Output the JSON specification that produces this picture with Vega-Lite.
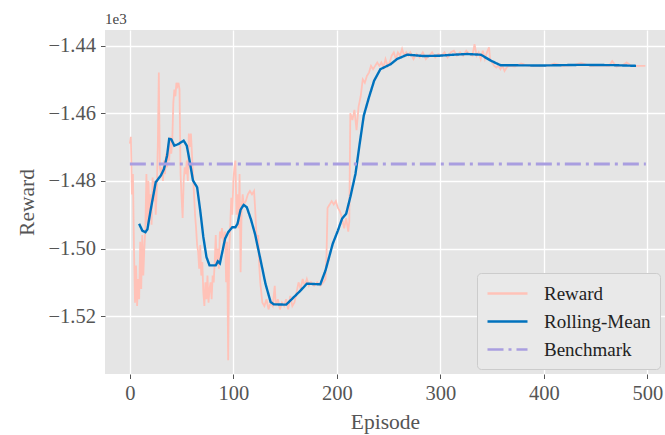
{
  "$schema": "https://vega.github.io/schema/vega-lite/v6.json",
  "width": 560,
  "height": 344,
  "autosize": {"type": "none"},
  "padding": {"left": 105, "top": 30, "right": 0, "bottom": 61},
  "background": "white",
  "title": {"text": "1e3", "anchor": "start", "frame": "group", "font": "Liberation Serif", "fontSize": 15, "fontWeight": "normal", "color": "#444444", "baseline": "bottom", "offset": -12},
  "config": {
    "view": {"fill": "#e5e5e5", "stroke": null},
    "axis": {
      "domain": false,
      "grid": true,
      "gridColor": "#ffffff",
      "gridWidth": 1.3,
      "tickColor": "#555555",
      "tickSize": 4.5,
      "tickWidth": 1,
      "labelColor": "#555555",
      "labelFont": "Liberation Serif",
      "labelFontSize": 20.5,
      "labelPadding": 5,
      "titleColor": "#555555",
      "titleFont": "Liberation Serif",
      "titleFontSize": 21.5,
      "titleFontWeight": "normal"
    },
    "legend": {
      "labelFont": "Liberation Serif",
      "labelFontSize": 19,
      "labelColor": "#222222"
    }
  },
  "data": {
    "values": [
      {"episode": 0, "value": -1469, "series": "Reward"},
      {"episode": 1, "value": -1467, "series": "Reward"},
      {"episode": 2, "value": -1484, "series": "Reward"},
      {"episode": 3, "value": -1478, "series": "Reward"},
      {"episode": 4, "value": -1500, "series": "Reward"},
      {"episode": 5, "value": -1516, "series": "Reward"},
      {"episode": 6, "value": -1505, "series": "Reward"},
      {"episode": 7, "value": -1517, "series": "Reward"},
      {"episode": 8, "value": -1509, "series": "Reward"},
      {"episode": 9, "value": -1515, "series": "Reward"},
      {"episode": 10, "value": -1498, "series": "Reward"},
      {"episode": 11, "value": -1512, "series": "Reward"},
      {"episode": 12, "value": -1496, "series": "Reward"},
      {"episode": 13, "value": -1508, "series": "Reward"},
      {"episode": 14, "value": -1500, "series": "Reward"},
      {"episode": 15, "value": -1494, "series": "Reward"},
      {"episode": 16, "value": -1478, "series": "Reward"},
      {"episode": 17, "value": -1493, "series": "Reward"},
      {"episode": 18, "value": -1480, "series": "Reward"},
      {"episode": 19, "value": -1490, "series": "Reward"},
      {"episode": 20, "value": -1484, "series": "Reward"},
      {"episode": 21, "value": -1493, "series": "Reward"},
      {"episode": 22, "value": -1479, "series": "Reward"},
      {"episode": 23, "value": -1486, "series": "Reward"},
      {"episode": 24, "value": -1480, "series": "Reward"},
      {"episode": 25, "value": -1490, "series": "Reward"},
      {"episode": 26, "value": -1483, "series": "Reward"},
      {"episode": 27, "value": -1470, "series": "Reward"},
      {"episode": 28, "value": -1448, "series": "Reward"},
      {"episode": 29, "value": -1476, "series": "Reward"},
      {"episode": 30, "value": -1478, "series": "Reward"},
      {"episode": 31, "value": -1476, "series": "Reward"},
      {"episode": 32, "value": -1480, "series": "Reward"},
      {"episode": 33, "value": -1474, "series": "Reward"},
      {"episode": 34, "value": -1478, "series": "Reward"},
      {"episode": 35, "value": -1472, "series": "Reward"},
      {"episode": 36, "value": -1476, "series": "Reward"},
      {"episode": 37, "value": -1470, "series": "Reward"},
      {"episode": 38, "value": -1474, "series": "Reward"},
      {"episode": 39, "value": -1467, "series": "Reward"},
      {"episode": 40, "value": -1472, "series": "Reward"},
      {"episode": 41, "value": -1468, "series": "Reward"},
      {"episode": 42, "value": -1457, "series": "Reward"},
      {"episode": 43, "value": -1453, "series": "Reward"},
      {"episode": 44, "value": -1455, "series": "Reward"},
      {"episode": 45, "value": -1451, "series": "Reward"},
      {"episode": 46, "value": -1452, "series": "Reward"},
      {"episode": 47, "value": -1451, "series": "Reward"},
      {"episode": 48, "value": -1453, "series": "Reward"},
      {"episode": 49, "value": -1478, "series": "Reward"},
      {"episode": 50, "value": -1485, "series": "Reward"},
      {"episode": 51, "value": -1491, "series": "Reward"},
      {"episode": 52, "value": -1480, "series": "Reward"},
      {"episode": 53, "value": -1476, "series": "Reward"},
      {"episode": 54, "value": -1478, "series": "Reward"},
      {"episode": 55, "value": -1474, "series": "Reward"},
      {"episode": 56, "value": -1480, "series": "Reward"},
      {"episode": 57, "value": -1466, "series": "Reward"},
      {"episode": 58, "value": -1470, "series": "Reward"},
      {"episode": 59, "value": -1466, "series": "Reward"},
      {"episode": 60, "value": -1472, "series": "Reward"},
      {"episode": 61, "value": -1478, "series": "Reward"},
      {"episode": 62, "value": -1484, "series": "Reward"},
      {"episode": 63, "value": -1490, "series": "Reward"},
      {"episode": 64, "value": -1494, "series": "Reward"},
      {"episode": 65, "value": -1499, "series": "Reward"},
      {"episode": 66, "value": -1501, "series": "Reward"},
      {"episode": 67, "value": -1506, "series": "Reward"},
      {"episode": 68, "value": -1499, "series": "Reward"},
      {"episode": 69, "value": -1508, "series": "Reward"},
      {"episode": 70, "value": -1504, "series": "Reward"},
      {"episode": 71, "value": -1513, "series": "Reward"},
      {"episode": 72, "value": -1517, "series": "Reward"},
      {"episode": 73, "value": -1510, "series": "Reward"},
      {"episode": 74, "value": -1515, "series": "Reward"},
      {"episode": 75, "value": -1508, "series": "Reward"},
      {"episode": 76, "value": -1516, "series": "Reward"},
      {"episode": 77, "value": -1512, "series": "Reward"},
      {"episode": 78, "value": -1510, "series": "Reward"},
      {"episode": 79, "value": -1515, "series": "Reward"},
      {"episode": 80, "value": -1508, "series": "Reward"},
      {"episode": 81, "value": -1510, "series": "Reward"},
      {"episode": 82, "value": -1504, "series": "Reward"},
      {"episode": 83, "value": -1496, "series": "Reward"},
      {"episode": 84, "value": -1505, "series": "Reward"},
      {"episode": 85, "value": -1500, "series": "Reward"},
      {"episode": 86, "value": -1506, "series": "Reward"},
      {"episode": 87, "value": -1495, "series": "Reward"},
      {"episode": 88, "value": -1497, "series": "Reward"},
      {"episode": 89, "value": -1494, "series": "Reward"},
      {"episode": 90, "value": -1496, "series": "Reward"},
      {"episode": 91, "value": -1500, "series": "Reward"},
      {"episode": 92, "value": -1495, "series": "Reward"},
      {"episode": 93, "value": -1510, "series": "Reward"},
      {"episode": 94, "value": -1498, "series": "Reward"},
      {"episode": 95, "value": -1533, "series": "Reward"},
      {"episode": 96, "value": -1500, "series": "Reward"},
      {"episode": 97, "value": -1493, "series": "Reward"},
      {"episode": 98, "value": -1485, "series": "Reward"},
      {"episode": 99, "value": -1490, "series": "Reward"},
      {"episode": 100, "value": -1480, "series": "Reward"},
      {"episode": 101, "value": -1476, "series": "Reward"},
      {"episode": 102, "value": -1474, "series": "Reward"},
      {"episode": 103, "value": -1490, "series": "Reward"},
      {"episode": 104, "value": -1484, "series": "Reward"},
      {"episode": 105, "value": -1494, "series": "Reward"},
      {"episode": 106, "value": -1478, "series": "Reward"},
      {"episode": 107, "value": -1507, "series": "Reward"},
      {"episode": 108, "value": -1488, "series": "Reward"},
      {"episode": 109, "value": -1484, "series": "Reward"},
      {"episode": 110, "value": -1487, "series": "Reward"},
      {"episode": 112, "value": -1486, "series": "Reward"},
      {"episode": 114, "value": -1484, "series": "Reward"},
      {"episode": 116, "value": -1483, "series": "Reward"},
      {"episode": 118, "value": -1484, "series": "Reward"},
      {"episode": 120, "value": -1483, "series": "Reward"},
      {"episode": 121, "value": -1488, "series": "Reward"},
      {"episode": 122, "value": -1494, "series": "Reward"},
      {"episode": 123, "value": -1500, "series": "Reward"},
      {"episode": 124, "value": -1496, "series": "Reward"},
      {"episode": 125, "value": -1505, "series": "Reward"},
      {"episode": 126, "value": -1510, "series": "Reward"},
      {"episode": 127, "value": -1513, "series": "Reward"},
      {"episode": 128, "value": -1516, "series": "Reward"},
      {"episode": 130, "value": -1517, "series": "Reward"},
      {"episode": 132, "value": -1515, "series": "Reward"},
      {"episode": 134, "value": -1518, "series": "Reward"},
      {"episode": 136, "value": -1516, "series": "Reward"},
      {"episode": 138, "value": -1517, "series": "Reward"},
      {"episode": 140, "value": -1511, "series": "Reward"},
      {"episode": 141, "value": -1517, "series": "Reward"},
      {"episode": 143, "value": -1515, "series": "Reward"},
      {"episode": 145, "value": -1518, "series": "Reward"},
      {"episode": 147, "value": -1516, "series": "Reward"},
      {"episode": 149, "value": -1517, "series": "Reward"},
      {"episode": 151, "value": -1515, "series": "Reward"},
      {"episode": 153, "value": -1518, "series": "Reward"},
      {"episode": 155, "value": -1514, "series": "Reward"},
      {"episode": 157, "value": -1517, "series": "Reward"},
      {"episode": 159, "value": -1516, "series": "Reward"},
      {"episode": 161, "value": -1513, "series": "Reward"},
      {"episode": 163, "value": -1510, "series": "Reward"},
      {"episode": 165, "value": -1512, "series": "Reward"},
      {"episode": 167, "value": -1509, "series": "Reward"},
      {"episode": 169, "value": -1511, "series": "Reward"},
      {"episode": 171, "value": -1509, "series": "Reward"},
      {"episode": 173, "value": -1511, "series": "Reward"},
      {"episode": 175, "value": -1510, "series": "Reward"},
      {"episode": 178, "value": -1511, "series": "Reward"},
      {"episode": 181, "value": -1510, "series": "Reward"},
      {"episode": 184, "value": -1511, "series": "Reward"},
      {"episode": 187, "value": -1510, "series": "Reward"},
      {"episode": 189, "value": -1509, "series": "Reward"},
      {"episode": 190, "value": -1502, "series": "Reward"},
      {"episode": 191, "value": -1488, "series": "Reward"},
      {"episode": 193, "value": -1487, "series": "Reward"},
      {"episode": 195, "value": -1486, "series": "Reward"},
      {"episode": 197, "value": -1487, "series": "Reward"},
      {"episode": 199, "value": -1486, "series": "Reward"},
      {"episode": 201, "value": -1488, "series": "Reward"},
      {"episode": 203, "value": -1489, "series": "Reward"},
      {"episode": 205, "value": -1491, "series": "Reward"},
      {"episode": 207, "value": -1494, "series": "Reward"},
      {"episode": 209, "value": -1491, "series": "Reward"},
      {"episode": 211, "value": -1495, "series": "Reward"},
      {"episode": 212, "value": -1492, "series": "Reward"},
      {"episode": 213, "value": -1460, "series": "Reward"},
      {"episode": 215, "value": -1462, "series": "Reward"},
      {"episode": 217, "value": -1459, "series": "Reward"},
      {"episode": 219, "value": -1465, "series": "Reward"},
      {"episode": 221, "value": -1458, "series": "Reward"},
      {"episode": 223, "value": -1455, "series": "Reward"},
      {"episode": 225, "value": -1450, "series": "Reward"},
      {"episode": 227, "value": -1451, "series": "Reward"},
      {"episode": 229, "value": -1449, "series": "Reward"},
      {"episode": 231, "value": -1448, "series": "Reward"},
      {"episode": 233, "value": -1446, "series": "Reward"},
      {"episode": 235, "value": -1447, "series": "Reward"},
      {"episode": 237, "value": -1446, "series": "Reward"},
      {"episode": 239, "value": -1445, "series": "Reward"},
      {"episode": 241, "value": -1446, "series": "Reward"},
      {"episode": 243, "value": -1445, "series": "Reward"},
      {"episode": 245, "value": -1446.5, "series": "Reward"},
      {"episode": 247, "value": -1444, "series": "Reward"},
      {"episode": 249, "value": -1446, "series": "Reward"},
      {"episode": 251, "value": -1445, "series": "Reward"},
      {"episode": 253, "value": -1443, "series": "Reward"},
      {"episode": 255, "value": -1442, "series": "Reward"},
      {"episode": 257, "value": -1444, "series": "Reward"},
      {"episode": 259, "value": -1442, "series": "Reward"},
      {"episode": 261, "value": -1443, "series": "Reward"},
      {"episode": 263, "value": -1441, "series": "Reward"},
      {"episode": 265, "value": -1443, "series": "Reward"},
      {"episode": 267, "value": -1442, "series": "Reward"},
      {"episode": 269, "value": -1443, "series": "Reward"},
      {"episode": 271, "value": -1442, "series": "Reward"},
      {"episode": 274, "value": -1444, "series": "Reward"},
      {"episode": 277, "value": -1442.5, "series": "Reward"},
      {"episode": 280, "value": -1443.5, "series": "Reward"},
      {"episode": 283, "value": -1442, "series": "Reward"},
      {"episode": 286, "value": -1444, "series": "Reward"},
      {"episode": 289, "value": -1443, "series": "Reward"},
      {"episode": 292, "value": -1442, "series": "Reward"},
      {"episode": 295, "value": -1443.5, "series": "Reward"},
      {"episode": 298, "value": -1442.5, "series": "Reward"},
      {"episode": 301, "value": -1443, "series": "Reward"},
      {"episode": 304, "value": -1442, "series": "Reward"},
      {"episode": 307, "value": -1443.5, "series": "Reward"},
      {"episode": 310, "value": -1442, "series": "Reward"},
      {"episode": 313, "value": -1441.5, "series": "Reward"},
      {"episode": 316, "value": -1443, "series": "Reward"},
      {"episode": 319, "value": -1442, "series": "Reward"},
      {"episode": 322, "value": -1443, "series": "Reward"},
      {"episode": 325, "value": -1441.5, "series": "Reward"},
      {"episode": 328, "value": -1442.5, "series": "Reward"},
      {"episode": 331, "value": -1443, "series": "Reward"},
      {"episode": 333, "value": -1439.6, "series": "Reward"},
      {"episode": 335, "value": -1443, "series": "Reward"},
      {"episode": 337, "value": -1442, "series": "Reward"},
      {"episode": 339, "value": -1444, "series": "Reward"},
      {"episode": 341, "value": -1441.5, "series": "Reward"},
      {"episode": 343, "value": -1444, "series": "Reward"},
      {"episode": 345, "value": -1442, "series": "Reward"},
      {"episode": 347, "value": -1440.5, "series": "Reward"},
      {"episode": 348, "value": -1444, "series": "Reward"},
      {"episode": 350, "value": -1445, "series": "Reward"},
      {"episode": 352, "value": -1446, "series": "Reward"},
      {"episode": 354, "value": -1446.5, "series": "Reward"},
      {"episode": 356, "value": -1446, "series": "Reward"},
      {"episode": 358, "value": -1447, "series": "Reward"},
      {"episode": 360, "value": -1446, "series": "Reward"},
      {"episode": 362, "value": -1447.5, "series": "Reward"},
      {"episode": 364, "value": -1446.5, "series": "Reward"},
      {"episode": 366, "value": -1446, "series": "Reward"},
      {"episode": 372, "value": -1446.2, "series": "Reward"},
      {"episode": 378, "value": -1445.3, "series": "Reward"},
      {"episode": 385, "value": -1446, "series": "Reward"},
      {"episode": 395, "value": -1446.1, "series": "Reward"},
      {"episode": 405, "value": -1445.9, "series": "Reward"},
      {"episode": 410, "value": -1445.3, "series": "Reward"},
      {"episode": 418, "value": -1446, "series": "Reward"},
      {"episode": 428, "value": -1445.8, "series": "Reward"},
      {"episode": 436, "value": -1445.2, "series": "Reward"},
      {"episode": 445, "value": -1446, "series": "Reward"},
      {"episode": 455, "value": -1445.9, "series": "Reward"},
      {"episode": 463, "value": -1446, "series": "Reward"},
      {"episode": 466, "value": -1444.6, "series": "Reward"},
      {"episode": 470, "value": -1446.2, "series": "Reward"},
      {"episode": 476, "value": -1445.8, "series": "Reward"},
      {"episode": 480, "value": -1445, "series": "Reward"},
      {"episode": 485, "value": -1446.1, "series": "Reward"},
      {"episode": 492, "value": -1446, "series": "Reward"},
      {"episode": 498, "value": -1446, "series": "Reward"},
      {"episode": 9, "value": -1492.7, "series": "Rolling-Mean"},
      {"episode": 12, "value": -1494.7, "series": "Rolling-Mean"},
      {"episode": 15, "value": -1495.2, "series": "Rolling-Mean"},
      {"episode": 17, "value": -1494.3, "series": "Rolling-Mean"},
      {"episode": 20, "value": -1488.8, "series": "Rolling-Mean"},
      {"episode": 25, "value": -1480.4, "series": "Rolling-Mean"},
      {"episode": 30, "value": -1478.4, "series": "Rolling-Mean"},
      {"episode": 33, "value": -1476.5, "series": "Rolling-Mean"},
      {"episode": 36, "value": -1472.5, "series": "Rolling-Mean"},
      {"episode": 38, "value": -1467.6, "series": "Rolling-Mean"},
      {"episode": 40, "value": -1467.7, "series": "Rolling-Mean"},
      {"episode": 43, "value": -1469.6, "series": "Rolling-Mean"},
      {"episode": 47, "value": -1469.1, "series": "Rolling-Mean"},
      {"episode": 52, "value": -1468.1, "series": "Rolling-Mean"},
      {"episode": 55, "value": -1469.6, "series": "Rolling-Mean"},
      {"episode": 58, "value": -1474.5, "series": "Rolling-Mean"},
      {"episode": 61, "value": -1479.9, "series": "Rolling-Mean"},
      {"episode": 65, "value": -1481.9, "series": "Rolling-Mean"},
      {"episode": 68, "value": -1488.8, "series": "Rolling-Mean"},
      {"episode": 71, "value": -1496.6, "series": "Rolling-Mean"},
      {"episode": 74, "value": -1502.5, "series": "Rolling-Mean"},
      {"episode": 77, "value": -1505, "series": "Rolling-Mean"},
      {"episode": 83, "value": -1505, "series": "Rolling-Mean"},
      {"episode": 85, "value": -1503.8, "series": "Rolling-Mean"},
      {"episode": 87, "value": -1504.4, "series": "Rolling-Mean"},
      {"episode": 92, "value": -1497.1, "series": "Rolling-Mean"},
      {"episode": 95, "value": -1495.2, "series": "Rolling-Mean"},
      {"episode": 99, "value": -1493.7, "series": "Rolling-Mean"},
      {"episode": 102, "value": -1493.7, "series": "Rolling-Mean"},
      {"episode": 104, "value": -1492.7, "series": "Rolling-Mean"},
      {"episode": 107, "value": -1488.5, "series": "Rolling-Mean"},
      {"episode": 110, "value": -1487.1, "series": "Rolling-Mean"},
      {"episode": 113, "value": -1487.8, "series": "Rolling-Mean"},
      {"episode": 117, "value": -1491.4, "series": "Rolling-Mean"},
      {"episode": 121, "value": -1495.8, "series": "Rolling-Mean"},
      {"episode": 126, "value": -1503, "series": "Rolling-Mean"},
      {"episode": 131, "value": -1510.4, "series": "Rolling-Mean"},
      {"episode": 136, "value": -1515.8, "series": "Rolling-Mean"},
      {"episode": 139, "value": -1516.5, "series": "Rolling-Mean"},
      {"episode": 151, "value": -1516.6, "series": "Rolling-Mean"},
      {"episode": 157, "value": -1514.8, "series": "Rolling-Mean"},
      {"episode": 165, "value": -1512.4, "series": "Rolling-Mean"},
      {"episode": 171, "value": -1510.4, "series": "Rolling-Mean"},
      {"episode": 184, "value": -1510.6, "series": "Rolling-Mean"},
      {"episode": 189, "value": -1506.5, "series": "Rolling-Mean"},
      {"episode": 196, "value": -1498.6, "series": "Rolling-Mean"},
      {"episode": 201, "value": -1494.7, "series": "Rolling-Mean"},
      {"episode": 205, "value": -1491.2, "series": "Rolling-Mean"},
      {"episode": 209, "value": -1489.7, "series": "Rolling-Mean"},
      {"episode": 213, "value": -1484.8, "series": "Rolling-Mean"},
      {"episode": 218, "value": -1477.9, "series": "Rolling-Mean"},
      {"episode": 222, "value": -1469.1, "series": "Rolling-Mean"},
      {"episode": 226, "value": -1460.7, "series": "Rolling-Mean"},
      {"episode": 231, "value": -1455.3, "series": "Rolling-Mean"},
      {"episode": 236, "value": -1450.4, "series": "Rolling-Mean"},
      {"episode": 242, "value": -1447, "series": "Rolling-Mean"},
      {"episode": 252, "value": -1445.5, "series": "Rolling-Mean"},
      {"episode": 258, "value": -1444, "series": "Rolling-Mean"},
      {"episode": 268, "value": -1442.7, "series": "Rolling-Mean"},
      {"episode": 284, "value": -1443.1, "series": "Rolling-Mean"},
      {"episode": 299, "value": -1443, "series": "Rolling-Mean"},
      {"episode": 313, "value": -1442.7, "series": "Rolling-Mean"},
      {"episode": 326, "value": -1442.5, "series": "Rolling-Mean"},
      {"episode": 339, "value": -1442.7, "series": "Rolling-Mean"},
      {"episode": 349, "value": -1444.5, "series": "Rolling-Mean"},
      {"episode": 358, "value": -1445.8, "series": "Rolling-Mean"},
      {"episode": 397, "value": -1445.9, "series": "Rolling-Mean"},
      {"episode": 436, "value": -1445.7, "series": "Rolling-Mean"},
      {"episode": 468, "value": -1445.8, "series": "Rolling-Mean"},
      {"episode": 489, "value": -1446, "series": "Rolling-Mean"},
      {"episode": 0, "value": -1475, "series": "Benchmark"},
      {"episode": 498.5, "value": -1475, "series": "Benchmark"}
    ]
  },
  "encoding": {
    "x": {"field": "episode", "type": "quantitative", "title": "Episode",
      "scale": {"domain": [-24, 517], "nice": false, "zero": false},
      "axis": {"values": [0, 100, 200, 300, 400, 500], "titlePadding": 7}},
    "y": {"field": "value", "type": "quantitative", "title": "Reward",
      "scale": {"domain": [-1537.1, -1435.4], "nice": false, "zero": false},
      "axis": {"values": [-1520, -1500, -1480, -1460, -1440], "labelExpr": "format(datum.value / 1000, '.2f')", "titlePadding": 10}},
    "color": {"field": "series", "type": "nominal", "title": null,
      "scale": {"domain": ["Reward", "Rolling-Mean", "Benchmark"], "range": ["#ffc2b8", "#0072bd", "#a99ee0"]},
      "legend": {"orient": "bottom-right", "offset": 5, "padding": 9, "fillColor": "#e9e9e9", "strokeColor": "#cccccc", "cornerRadius": 4, "symbolType": "M-1,0H3", "symbolSize": 400, "symbolStrokeWidth": 2.5, "labelOffset": 35, "rowPadding": 6}},
    "strokeDash": {"field": "series", "type": "nominal", "title": null,
      "scale": {"domain": ["Reward", "Rolling-Mean", "Benchmark"], "range": [[1, 0], [1, 0], [16, 5, 3, 5]]}}
  },
  "layer": [
    {"transform": [{"filter": "datum.series === 'Reward'"}], "mark": {"type": "line", "strokeWidth": 1.8, "clip": true}},
    {"transform": [{"filter": "datum.series === 'Rolling-Mean'"}], "mark": {"type": "line", "strokeWidth": 2.4, "clip": true}},
    {"transform": [{"filter": "datum.series === 'Benchmark'"}], "mark": {"type": "line", "strokeWidth": 3, "clip": true}}
  ]
}
